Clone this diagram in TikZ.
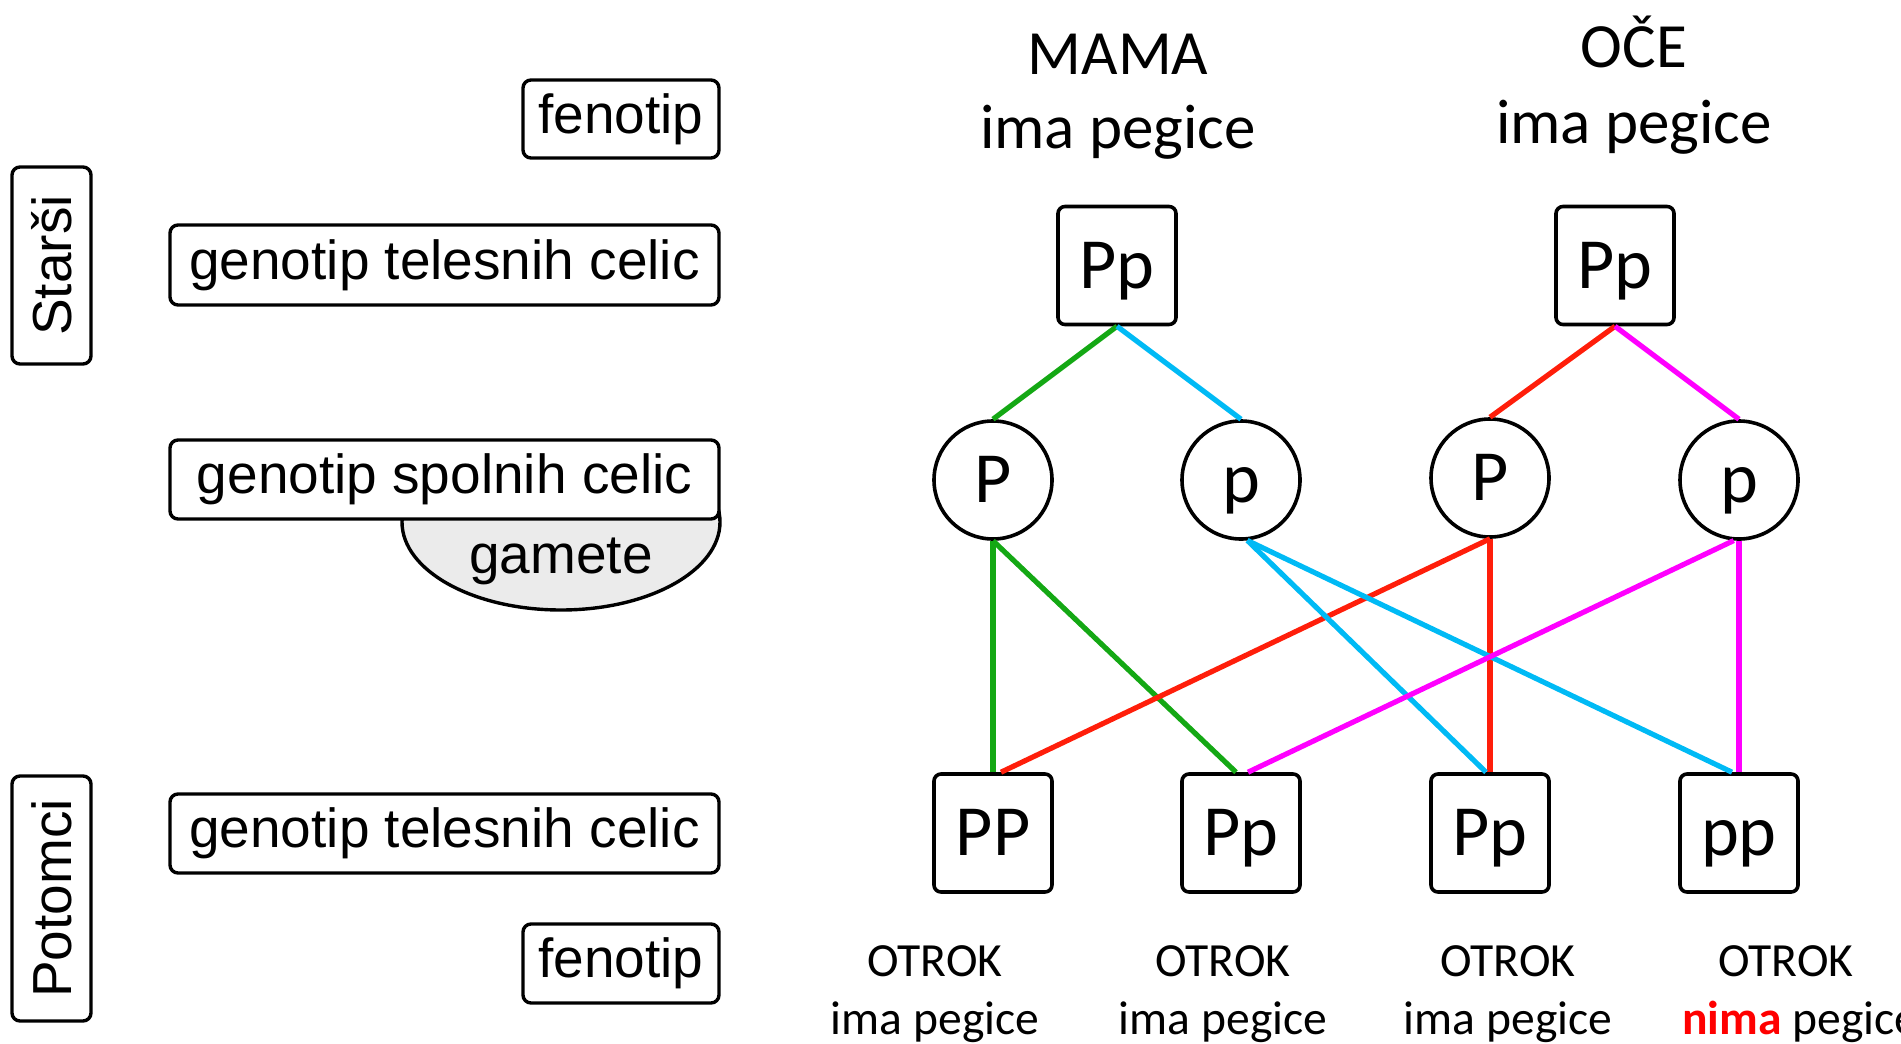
\documentclass[tikz,border=0pt]{standalone}
\usepackage{fontspec}
\setmainfont{Carlito}
\newfontfamily\arialf{Liberation Sans}
\definecolor{cgreen}{RGB}{20,168,20}
\definecolor{cblue}{RGB}{0,186,245}
\definecolor{cred}{RGB}{255,30,10}
\definecolor{cmag}{RGB}{255,0,255}
\definecolor{gamfill}{RGB}{235,235,235}
\begin{document}
\begin{tikzpicture}[x=0.5pt,y=-0.5pt,
  lbox/.style={draw, line width=1.7pt, rounded corners=4pt, fill=white, inner sep=0pt,
    font=\arialf\fontsize{27.5}{33}\selectfont},
  gbox/.style={draw, line width=1.8pt, rounded corners=3.5pt, fill=white, inner sep=0pt,
    minimum width=59pt, minimum height=59pt, text height=22.9pt, text depth=0pt,
    font=\fontsize{36}{40}\selectfont},
  gcirc/.style={draw, circle, line width=1.8pt, fill=white, inner sep=0pt,
    minimum size=59pt, text height=22.9pt, text depth=0pt,
    font=\fontsize{36}{40}\selectfont},
  head/.style={anchor=base, font=\fontsize{31.5}{38}\selectfont},
  kid/.style={anchor=base, font=\fontsize{23.8}{28}\selectfont},
  link/.style={line width=2.6pt}
]
\useasboundingbox (0,0) rectangle (1901,1044);
\clip (0,0) rectangle (1901,1044);

% left legend
\node[lbox, rotate=90, minimum width=98.5pt, minimum height=39.5pt] (starsi) at (51.5,265.5) {Starši};
\node[lbox, rotate=90, minimum width=122.5pt, minimum height=39.5pt] (potomci) at (51.5,898.5) {Potomci};
\node[lbox, minimum width=98pt, minimum height=39pt] (fen1) at (621,119) {fenotip};
\node[lbox, minimum width=274.5pt, minimum height=40pt] (tel1) at (444.5,265) {genotip telesnih celic};
\begin{scope}
\clip (380,500) rectangle (740,640);
\draw[line width=1.7pt, fill=gamfill] (561,522) ellipse [x radius=159, y radius=88];
\end{scope}
\node[lbox, minimum width=274.5pt, minimum height=39.5pt] (spol) at (444.5,479.5) {genotip spolnih celic};
\node[font=\arialf\fontsize{27.5}{33}\selectfont, inner sep=0pt] (gam) at (561,561) {gamete};
\node[lbox, minimum width=274.5pt, minimum height=39.5pt] (tel2) at (444.5,833.5) {genotip telesnih celic};
\node[lbox, minimum width=98pt, minimum height=39.5pt] (fen2) at (621,963.5) {fenotip};

% headings
\node[head] (mamaT) at (1118,74) {MAMA};
\node[head] (mamaF) at (1118,148) {ima pegice};
\node[head] (oceT) at (1634,68) {OČE};
\node[head] (oceF) at (1634,143) {ima pegice};

% parents
\node[gbox] (mama) at (1117,265.5) {Pp};
\node[gbox] (oce) at (1615,265.5) {Pp};

% gametes
\node[gcirc] (gP1) at (993,480) {P};
\node[gcirc] (gp1) at (1241,480) {p};
\node[gcirc] (gP2) at (1490,478) {P};
\node[gcirc] (gp2) at (1739,480) {p};

% children
\node[gbox] (cPP) at (993,833) {PP};
\node[gbox] (cPp1) at (1241,833) {Pp};
\node[gbox] (cPp2) at (1490,833) {Pp};
\node[gbox] (cpp) at (1739,833) {pp};

% connectors parents -> gametes
\draw[link, cgreen] (mama.south) -- (gP1.north);
\draw[link, cblue] (mama.south) -- (gp1.north);
\draw[link, cred] (oce.south) -- (gP2.north);
\draw[link, cmag] (oce.south) -- (gp2.north);

% connectors gametes -> children
\draw[link, cgreen] (gP1.south) -- (cPP.north);
\draw[link, cgreen] (gP1.south) -- ([xshift=-2.5pt]cPp1.north);
\draw[link, cred] (gP2.south) -- ([xshift=4pt]cPP.north);
\draw[link, cred] (gP2.south) -- (cPp2.north);
\draw[link, cblue] (gp1.-84) -- ([xshift=-2pt]cPp2.north);
\draw[link, cblue] (gp1.-84) -- ([xshift=-3.5pt]cpp.north);
\draw[link, cmag] (gp2.-95) -- ([xshift=3.5pt]cPp1.north);
\draw[link, cmag] (gp2.south) -- (cpp.north);

% children labels
\node[kid] (k1a) at (935,976) {OTROK};
\node[kid] (k1b) at (935,1034) {ima pegice};
\node[kid] (k2a) at (1223,976) {OTROK};
\node[kid] (k2b) at (1223,1034) {ima pegice};
\node[kid] (k3a) at (1508,976) {OTROK};
\node[kid] (k3b) at (1508,1034) {ima pegice};
\node[kid] (k4a) at (1786,976) {OTROK};
\node[kid, anchor=base west, inner sep=0pt] (k4b) at (1682,1034) {\textcolor{red}{\bfseries nima} pegice};
\end{tikzpicture}
\end{document}
